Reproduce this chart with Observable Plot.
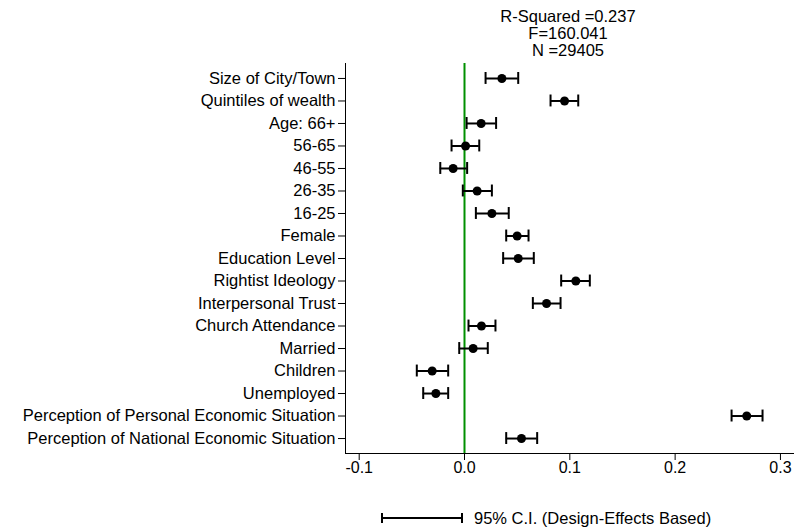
<!DOCTYPE html>
<html>
<head>
<meta charset="utf-8">
<script src="https://cdn.jsdelivr.net/npm/d3@7"></script>
<script src="https://cdn.jsdelivr.net/npm/@observablehq/plot@0.6"></script>
<style>
  html, body { margin: 0; padding: 0; background: white; }
  #wrap { position: relative; width: 806px; height: 529px; font-family: "Liberation Sans", Arial, sans-serif; color: black; }
  #stats { position: absolute; left: 418px; width: 300px; top: 8px; text-align: center; font-size: 16.5px; line-height: 17px; }
  #legend { position: absolute; left: 381px; top: 508px; font-size: 16.5px; line-height: 20px; display: flex; align-items: center; }
  #legend .sym { width: 78px; height: 10px; border-left: 2px solid black; border-right: 2px solid black; position: relative; margin-right: 11px; }
  #legend .sym::after { content: ""; position: absolute; left: 0; right: 0; top: 4px; border-top: 2px solid black; }
  #chart { position: absolute; left: 0; top: 0; }
</style>
</head>
<body>
<div id="wrap">
  <div id="chart"></div>
  <div id="stats"></div>
  <div id="legend"><span class="sym"></span><span id="legendText"></span></div>
</div>
<script>
const labels = [
  "Size of City/Town", "Quintiles of wealth", "Age: 66+", "56-65", "46-55", "26-35", "16-25",
  "Female", "Education Level", "Rightist Ideology", "Interpersonal Trust", "Church Attendance",
  "Married", "Children", "Unemployed", "Perception of Personal Economic Situation",
  "Perception of National Economic Situation"
];
const estimates = [0.0355, 0.095, 0.0158, 0.001, -0.0108, 0.012, 0.026, 0.050, 0.051, 0.1057, 0.0779, 0.0161, 0.0082, -0.0307, -0.0272, 0.268, 0.0541];
const lower =     [0.020, 0.0817, 0.002, -0.0123, -0.023, -0.0016, 0.0108, 0.0396, 0.0367, 0.0918, 0.0649, 0.0038, -0.005, -0.0453, -0.0392, 0.2536, 0.0396];
const upper =     [0.051, 0.108, 0.030, 0.014, 0.0025, 0.026, 0.042, 0.0608, 0.0658, 0.119, 0.0912, 0.0294, 0.0221, -0.0155, -0.0155, 0.283, 0.069];
const xTicks = [-0.1, 0.0, 0.1, 0.2, 0.3];
const xDomain = [-0.113, 0.3124];
const statLines = ["R-Squared =0.237", "F=160.041", "N =29405"];
const legendLabel = "95% C.I. (Design-Effects Based)";

const data = labels.map((label, i) => ({label, est: estimates[i], lo: lower[i], hi: upper[i]}));

document.getElementById("stats").innerHTML = statLines.join("<br>");
document.getElementById("legendText").textContent = legendLabel;

const chart = Plot.plot({
  width: 806,
  height: 490,
  marginLeft: 345,
  marginRight: 13,
  marginTop: 63,
  marginBottom: 37,
  style: {fontFamily: "'Liberation Sans', Arial, sans-serif", fontSize: "16.5px", color: "black", background: "transparent", overflow: "visible"},
  x: {domain: xDomain, label: null},
  y: {type: "band", domain: labels, paddingInner: 0.47, paddingOuter: 0.4, round: false, label: null},
  marks: [
    Plot.axisX({ticks: xTicks, tickFormat: d => d.toFixed(1), tickSize: 7, tickPadding: 1, label: null, fontSize: 16}),
    Plot.axisY({tickSize: 7, tickPadding: 3, label: null, fontSize: 16.5}),
    Plot.frame({anchor: "left", stroke: "black"}),
    Plot.frame({anchor: "bottom", stroke: "black"}),
    Plot.ruleX([0], {stroke: "#009000", strokeWidth: 2}),
    Plot.ruleY(data, {y: "label", x1: "lo", x2: "hi", stroke: "black", strokeWidth: 2}),
    Plot.tickX(data, {x: "lo", y: "label", stroke: "black", strokeWidth: 2}),
    Plot.tickX(data, {x: "hi", y: "label", stroke: "black", strokeWidth: 2}),
    Plot.dot(data, {x: "est", y: "label", r: 4.5, fill: "black", stroke: null})
  ]
});
document.getElementById("chart").appendChild(chart);
</script>
</body>
</html>
